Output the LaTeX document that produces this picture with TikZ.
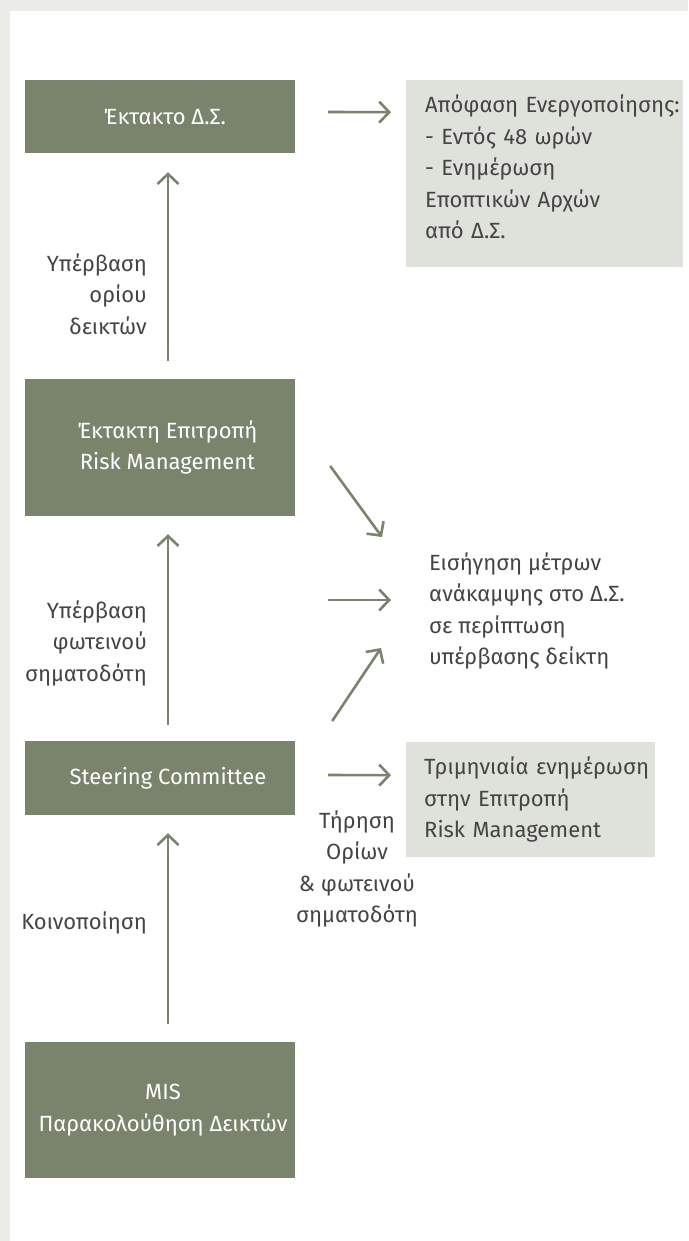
\documentclass[tikz,border=0pt]{standalone}
\usepackage{fontspec}
\setmainfont{Fira Sans}
\usetikzlibrary{arrows.meta,calc}
\definecolor{bgborder}{HTML}{EBECE7}
\definecolor{boxgreen}{HTML}{7A846D}
\definecolor{lightbox}{HTML}{DFE1DB}
\definecolor{txt}{HTML}{444444}
\begin{document}
\begin{tikzpicture}[x=1pt,y=-1pt,
  every node/.style={font=\fontsize{22}{31.5}\selectfont},
  gbox/.style={fill=boxgreen, text=white, minimum width=270pt, align=center, inner sep=0pt},
  lbox/.style={fill=lightbox, text=txt, align=left, inner xsep=0pt, inner ysep=0pt, anchor=north west},
  lbl/.style={text=txt, inner sep=0pt},
  arr/.style={draw=boxgreen, line width=2.6pt, -{Straight Barb[length=10pt,width=21pt]}}
]
\useasboundingbox (0,0) rectangle (688,1241);
\fill[bgborder] (0,0) rectangle (688,1241);
\fill[white] (10,11) rectangle (688,1241);

% main boxes
\node[gbox, minimum height=73pt] (ds) at (160,116.5) {\hspace*{10pt}Έκτακτο Δ.Σ.};
\node[gbox, minimum height=137pt] (risk) at (160,447.5) {\hspace*{15pt}Έκτακτη Επιτροπή\\\hspace*{15pt}Risk Management};
\node[gbox, minimum height=74pt] (steer) at (160,778) {\hspace*{16pt}Steering Committee};
\node[gbox, minimum height=136pt] (mis) at (160,1110) {\hspace*{6pt}MIS\\\hspace*{6pt}Παρακολούθηση Δεικτών};

% light boxes
\node[lbox, text width=277pt, minimum height=187pt] (b1) at (406,80)
  {\leftskip=19pt \mbox{Απόφαση Ενεργοποίησης:}\\- Εντός 48 ωρών\\- Ενημέρωση\\Εποπτικών Αρχών\\από Δ.Σ.\rule[-14pt]{0pt}{14pt}\par};
\node[lbox, text width=249pt, minimum height=115pt] (b3) at (406,742)
  {\leftskip=18pt \mbox{Τριμηνιαία ενημέρωση}\\στην Επιτροπή\\Risk Management\par};

% free texts
\node[lbl, align=left, anchor=west] (rec) at (429,611) {Εισήγηση μέτρων\\ανάκαμψης στο Δ.Σ.\\σε περίπτωση\\υπέρβασης δείκτη};
\node[lbl, align=right, anchor=east] (l1) at (147,294) {Υπέρβαση\\ορίου\\δεικτών};
\node[lbl, align=right, anchor=east] (l2) at (147,643) {Υπέρβαση\\φωτεινού\\σηματοδότη};
\node[lbl, anchor=base east] (l3) at (147,929) {Κοινοποίηση};
\node[lbl, align=center] (l4) at (357,869) {Τήρηση\\Ορίων\\\& φωτεινού\\σηματοδότη};

% vertical arrows
\draw[arr] ($(risk.north)+(8,-18)$) -- ($(ds.south)+(8,19)$);
\draw[arr] ($(steer.north)+(8,-16)$) -- ($(risk.south)+(8,18)$);
\draw[arr] ($(mis.north)+(8,-18)$) -- ($(steer.south)+(8,18)$);

% horizontal arrows
\draw[arr] ($(ds.east)+(33,-4.5)$) -- ($(b1.west)+(-15,-61.5)$);
\coordinate (h2s) at (328,600);
\draw[arr] (h2s) -- ($(rec.west)+(-38,-11)$);
\draw[arr] ($(steer.east)+(33,-3)$) -- ($(b3.west)+(-15,-24.5)$);

% diagonal arrows
\draw[arr] ($(risk.east)+(35,18.5)$) -- ($(rec.west)+(-47,-74)$);
\draw[arr] ($(steer.east)+(37,-57)$) -- ($(rec.west)+(-48,37)$);
\end{tikzpicture}
\end{document}
